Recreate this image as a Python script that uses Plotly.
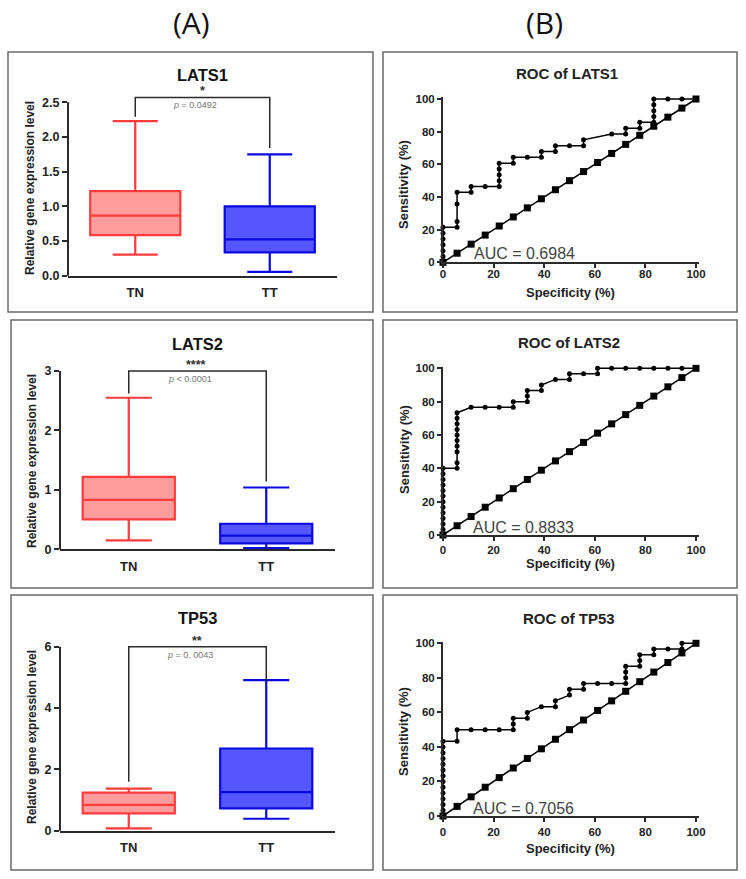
import plotly.graph_objects as go

W, H = 746, 879


def px(x):
    return x / W


def py(y):
    return 1 - y / H


FONT = "Liberation Sans, Arial, sans-serif"

# ---------------- data ----------------
groups = ["TN", "TT"]
genes = ["LATS1", "LATS2", "TP53"]

# box statistics: [TN, TT]
lats1_lower = [0.305, 0.055]
lats1_q1 = [0.585, 0.335]
lats1_median = [0.865, 0.525]
lats1_q3 = [1.22, 1.0]
lats1_upper = [2.23, 1.75]

lats2_lower = [0.15, 0.02]
lats2_q1 = [0.505, 0.10]
lats2_median = [0.83, 0.23]
lats2_q3 = [1.22, 0.43]
lats2_upper = [2.55, 1.04]

tp53_lower = [0.075, 0.39]
tp53_q1 = [0.565, 0.73]
tp53_median = [0.84, 1.26]
tp53_q3 = [1.24, 2.68]
tp53_upper = [1.37, 4.91]

# significance brackets (TN leg bottom, top, top, TT leg bottom)
bracket_x = ["TN", "TN", "TT", "TT"]
lats1_bracket = [2.29, 2.57, 2.57, 1.84]
lats2_bracket = [2.62, 3.0, 3.0, 1.14]
tp53_bracket = [1.6, 6.0, 6.0, 4.9]

stars = ["*", "****", "**"]
p_labels = ["<i>p</i> = 0.0492", "<i>p</i> &lt; 0.0001", "<i>p</i> = 0. 0043"]

# y ticks of the box plots
lats1_ticks = [0, 0.5, 1.0, 1.5, 2.0, 2.5]
lats1_ticktext = ["0.0", "0.5", "1.0", "1.5", "2.0", "2.5"]
lats2_ticks = [0, 1, 2, 3]
lats2_ticktext = ["0", "1", "2", "3"]
tp53_ticks = [0, 2, 4, 6]
tp53_ticktext = ["0", "2", "4", "6"]

# ROC curves
lats1_spec = [0, 0, 0, 0, 0, 0, 0, 5.56, 5.56, 5.56, 5.56, 11.11, 11.11, 16.67,
              22.22, 22.22, 22.22, 22.22, 22.22, 27.78, 27.78, 33.33, 38.89, 38.89,
              44.44, 44.44, 50, 55.56, 55.56, 66.67, 72.22, 72.22, 77.78, 77.78,
              83.33, 83.33, 83.33, 83.33, 83.33, 88.89, 94.44, 100]
lats1_sens = [0, 3.57, 7.14, 10.71, 14.29, 17.86, 21.43, 21.43, 25, 35.71, 42.86,
              42.86, 46.43, 46.43, 46.43, 50, 53.57, 57.14, 60.71, 60.71, 64.29,
              64.29, 64.29, 67.86, 67.86, 71.43, 71.43, 71.43, 75, 78.57, 78.57,
              82.14, 82.14, 85.71, 85.71, 89.29, 92.86, 96.43, 100, 100, 100, 100]

lats2_spec = [0, 0, 0, 0, 0, 0, 0, 0, 0, 0, 0, 0, 0,
              5.56, 5.56, 5.56, 5.56, 5.56, 5.56, 5.56, 5.56, 5.56, 5.56,
              11.11, 16.67, 22.22, 27.78, 27.78, 33.33, 33.33, 33.33, 38.89, 38.89,
              44.44, 50, 50, 55.56, 61.11, 61.11, 66.67, 72.22, 77.78, 83.33,
              88.89, 94.44, 100]
lats2_sens = [0, 3.33, 6.67, 10, 13.33, 16.67, 20, 23.33, 26.67, 30, 33.33, 36.67, 40,
              40, 43.33, 50, 53.33, 56.67, 60, 63.33, 66.67, 70, 73.33,
              76.67, 76.67, 76.67, 76.67, 80, 80, 83.33, 86.67, 86.67, 90,
              93.33, 93.33, 96.67, 96.67, 96.67, 100, 100, 100, 100, 100,
              100, 100, 100]

tp53_spec = [0, 0, 0, 0, 0, 0, 0, 0, 0, 0, 0, 0, 0, 0,
             5.56, 5.56, 11.11, 16.67, 22.22, 27.78, 27.78, 27.78, 33.33, 33.33,
             38.89, 44.44, 44.44, 50, 50, 55.56, 55.56, 61.11, 66.67, 72.22, 72.22,
             72.22, 72.22, 77.78, 77.78, 77.78, 83.33, 83.33, 88.89, 94.44, 94.44, 100]
tp53_sens = [0, 3.33, 6.67, 10, 13.33, 16.67, 20, 23.33, 26.67, 30, 33.33, 36.67, 40, 43.33,
             43.33, 50, 50, 50, 50, 50, 53.33, 56.67, 56.67, 60,
             63.33, 63.33, 66.67, 70, 73.33, 73.33, 76.67, 76.67, 76.67, 76.67, 80,
             83.33, 86.67, 86.67, 90, 93.33, 93.33, 96.67, 96.67, 96.67, 100, 100]

ref_line = [0, 5.56, 11.11, 16.67, 22.22, 27.78, 33.33, 38.89, 44.44, 50,
            55.56, 61.11, 66.67, 72.22, 77.78, 83.33, 88.89, 94.44, 100]
roc_ticks = [0, 20, 40, 60, 80, 100]
auc_labels = ["AUC = 0.6984", "AUC = 0.8833", "AUC = 0.7056"]

# ---------------- styles / layout geometry ----------------
tn_line, tn_fill = "#ff3b3b", "#ff9c9c"
tt_line, tt_fill = "#0a0ae0", "#5656ff"
dark = "#2a2a2a"

box_stats = [
    (lats1_lower, lats1_q1, lats1_median, lats1_q3, lats1_upper),
    (lats2_lower, lats2_q1, lats2_median, lats2_q3, lats2_upper),
    (tp53_lower, tp53_q1, tp53_median, tp53_q3, tp53_upper),
]
brackets = [lats1_bracket, lats2_bracket, tp53_bracket]
box_ticks = [(lats1_ticks, lats1_ticktext), (lats2_ticks, lats2_ticktext), (tp53_ticks, tp53_ticktext)]
rocs = [(lats1_spec, lats1_sens), (lats2_spec, lats2_sens), (tp53_spec, tp53_sens)]

box_x_px = [(68, 337), (60, 335), (60, 335)]
box_y0_px = [275.7, 549.3, 830.7]
box_unit = [69.36, 59.43, 30.67]
box_top = [2.65, 3.06, 6.12]

roc_x_px = (443, 698.5)
roc_y0_px = [262.3, 535, 816]
roc_unit = [1.633, 1.667, 1.727]
roc_label_standoff = [-4, -1, 0]

frames_y = [(52, 312), (320, 588), (595, 870)]
frames_left_x = [(8, 373), (11, 373), (11, 373)]
frames_right_x = (383, 737)

titles_box = [(202, 75), (197, 344), (197, 618)]
ylab_pos = [(30, 188), (32, 461), (32, 737)]
star_pos = [(202, 91), (196, 364.5), (197, 640.5)]
p_pos = [(195, 105), (190, 379), (190, 655)]
roc_title_pos = [(567, 73), (569, 343), (569, 618)]
roc_xlab_pos = [(570, 293), (570, 563), (570, 848)]
roc_ylab_pos = [(403, 185), (405, 450), (403, 732)]
auc_pos = [(472, 254), (471, 527), (471, 808)]


def note(text, x, y, font, xanchor="center", angle=0, pad=1):
    return dict(text=text, x=px(x), y=py(y), xref="paper", yref="paper",
                xanchor=xanchor, yanchor="middle", textangle=angle, borderpad=pad,
                showarrow=False, font=font)


fig = go.Figure()
layout = dict(
    width=W, height=H, margin=dict(l=0, r=0, t=0, b=0, autoexpand=False),
    paper_bgcolor="white", plot_bgcolor="white", showlegend=False,
    font=dict(family=FONT, color="#222"),
)
shapes = []
annotations = []

for i in range(3):
    a, b = 2 * i + 1, 2 * i + 2
    lower, q1, med, q3, upper = box_stats[i]
    for j, g in enumerate(groups):
        fig.add_trace(go.Box(
            x=[g], lowerfence=[lower[j]], q1=[q1[j]], median=[med[j]], q3=[q3[j]],
            upperfence=[upper[j]], boxpoints=False,
            fillcolor=tn_fill if j == 0 else tt_fill,
            line=dict(color=tn_line if j == 0 else tt_line, width=2.2),
            width=0.67, whiskerwidth=0.5, hoverinfo="skip",
            xaxis=f"x{a}", yaxis=f"y{a}",
        ))
    fig.add_trace(go.Scatter(
        x=bracket_x, y=brackets[i], mode="lines",
        line=dict(color=dark, width=1.5), hoverinfo="skip",
        xaxis=f"x{a}", yaxis=f"y{a}",
    ))

    spec, sens = rocs[i]
    fig.add_trace(go.Scatter(
        x=spec, y=sens, mode="lines+markers", cliponaxis=False,
        line=dict(color="black", width=1.5),
        marker=dict(symbol="circle", size=5, color="black"),
        xaxis=f"x{b}", yaxis=f"y{b}",
    ))
    fig.add_trace(go.Scatter(
        x=ref_line, y=ref_line, mode="lines+markers", cliponaxis=False,
        line=dict(color="black", width=1.5),
        marker=dict(symbol="square", size=7, color="black"),
        xaxis=f"x{b}", yaxis=f"y{b}",
    ))

    # box plot axes
    bx0, bx1 = box_x_px[i]
    y0 = box_y0_px[i]
    ytop = y0 - box_top[i] * box_unit[i]
    tv, tt = box_ticks[i]
    layout[f"xaxis{a}"] = dict(
        domain=[px(bx0), px(bx1)], anchor=f"y{a}", type="category",
        categoryorder="array", categoryarray=groups, range=[-0.5, 1.5],
        showline=True, linecolor=dark, linewidth=2, showgrid=False, zeroline=False,
        ticks="outside", ticklen=4, tickcolor="rgba(0,0,0,0)", automargin=False,
        tickfont=dict(family=FONT, size=13, color="#222", weight="bold"),
    )
    layout[f"yaxis{a}"] = dict(
        domain=[py(y0), py(ytop)], anchor=f"x{a}", range=[0, box_top[i]],
        showline=False, showgrid=False, zeroline=False, automargin=False,
        tickvals=tv, ticktext=tt, ticks="outside", ticklen=5, tickwidth=1.5,
        tickcolor=dark,
        tickfont=dict(family=FONT, size=12.5, color="#222", weight="bold"),
    )
    # y axis line ends at the last tick (GraphPad style)
    shapes.append(dict(type="line", xref="paper", yref="paper",
                       x0=px(bx0), x1=px(bx0), y0=py(y0),
                       y1=py(y0 - max(tv) * box_unit[i]),
                       line=dict(color=dark, width=2)))

    # ROC axes
    r0 = roc_y0_px[i]
    rtop = r0 - 101 * roc_unit[i]
    layout[f"xaxis{b}"] = dict(
        domain=[px(roc_x_px[0]), px(roc_x_px[1])], anchor=f"y{b}", range=[0, 101],
        showline=True, linecolor=dark, linewidth=2, showgrid=False, zeroline=False,
        tickvals=roc_ticks, ticks="outside", ticklen=4, tickwidth=1.5, tickcolor=dark,
        automargin=False, ticklabelstandoff=roc_label_standoff[i],
        tickfont=dict(family=FONT, size=11.5, color="#222", weight="bold"),
    )
    layout[f"yaxis{b}"] = dict(
        domain=[py(r0), py(rtop)], anchor=f"x{b}", range=[0, 101],
        showline=True, linecolor=dark, linewidth=2, showgrid=False, zeroline=False,
        tickvals=roc_ticks, ticks="outside", ticklen=4, tickwidth=1.5, tickcolor=dark,
        automargin=False,
        tickfont=dict(family=FONT, size=11.5, color="#222", weight="bold"),
    )

    # frames
    fy0, fy1 = frames_y[i]
    for (fx0, fx1) in (frames_left_x[i], frames_right_x):
        shapes.append(dict(type="rect", xref="paper", yref="paper",
                           x0=px(fx0), x1=px(fx1), y0=py(fy1), y1=py(fy0),
                           line=dict(color="#6a6a6a", width=1.5)))

    # texts
    annotations.append(note(genes[i], *titles_box[i],
                            dict(family=FONT, size=16.5, color="#111", weight="bold")))
    annotations.append(note("Relative gene expression level", *ylab_pos[i],
                            dict(family=FONT, size=12, color="#222", weight="bold"), angle=-90))
    annotations.append(note(stars[i], *star_pos[i],
                            dict(family=FONT, size=12.5, color="#333", weight="bold"), pad=0))
    annotations.append(note(p_labels[i], *p_pos[i], dict(family=FONT, size=9, color="#777"), pad=0))
    annotations.append(note("ROC of " + genes[i], *roc_title_pos[i],
                            dict(family=FONT, size=15, color="#222", weight="bold")))
    annotations.append(note("Specificity (%)", *roc_xlab_pos[i],
                            dict(family=FONT, size=13, color="#222", weight="bold")))
    annotations.append(note("Sensitivity (%)", *roc_ylab_pos[i],
                            dict(family=FONT, size=13, color="#222", weight="bold"), angle=-90))
    annotations.append(note(auc_labels[i], *auc_pos[i],
                            dict(family=FONT, size=16, color="#444"), xanchor="left"))

annotations.append(note("(A)", 191, 22.5, dict(family="Open Sans", size=30, color="#111")))
annotations.append(note("(B)", 544, 22.5, dict(family="Open Sans", size=30, color="#111")))

layout["shapes"] = shapes
layout["annotations"] = annotations
fig.update_layout(**layout)
# remove the browser's default 8px body margin so the figure fills the window exactly
fig.write_html("out.html", config={"displayModeBar": False},
               post_script="document.body.style.margin='0px';")
